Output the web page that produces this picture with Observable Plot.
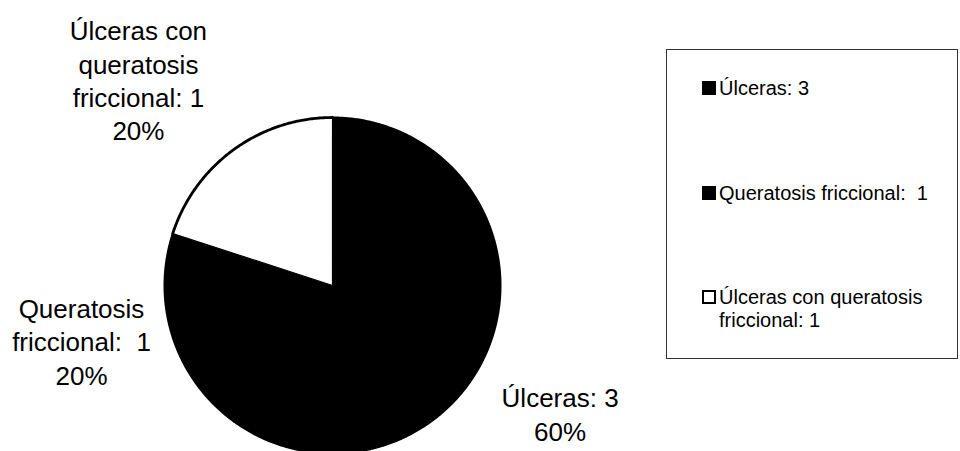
<!DOCTYPE html>
<html>
<head>
<meta charset="utf-8">
<script src="https://cdn.jsdelivr.net/npm/d3@7"></script>
<script src="https://cdn.jsdelivr.net/npm/@observablehq/plot@0.6"></script>
<style>
  html, body { margin: 0; padding: 0; background: #fff; }
  #wrap { position: relative; width: 960px; height: 451px; overflow: hidden;
          font-family: "Liberation Sans", Arial, sans-serif; color: #000; }
  #legend { position: absolute; left: 666px; top: 49px; width: 292px; height: 310px;
            box-sizing: border-box; border: 1px solid #333; font-size: 20px; }
  .item { position: absolute; left: 35px; display: flex; align-items: flex-start; line-height: 23px; }
  .sw { width: 14px; height: 14px; box-sizing: border-box; border: 2px solid #000;
        margin-top: 4px; margin-right: 3px; flex: none; }
  .item span { white-space: pre; }
</style>
</head>
<body>
<div id="wrap"></div>
<script>
// ---- data ----
const categories = ["Úlceras", "Queratosis friccional", "Úlceras con queratosis friccional"];
const values = [3, 1, 1];
const percentLabels = ["60%", "20%", "20%"];
const sliceLabels = ["Úlceras: 3", "Queratosis\nfriccional:  1", "Úlceras con\nqueratosis\nfriccional: 1"];
const legendLabels = ["Úlceras: 3", "Queratosis friccional:  1", "Úlceras con queratosis\nfriccional: 1"];
const sliceColors = ["#000000", "#000000", "#ffffff"];

// ---- layout ----
const W = 960, H = 451;
const cx = 332, cy = 285, R = 168;
// label placement: angle offset (deg) from slice mid-angle, distance from centre
const labelLayout = [{da: 11.3, d: 261}, {da: 5.6, d: 257}, {da: -7.3, d: 283}];
const legendTops = [27, 132, 236];

const arcs = d3.pie().sort(null).value(d => d)(values);
const pt = (a, r) => ({x: cx + r * Math.sin(a), y: cy - r * Math.cos(a)});
const arcPoints = a => {
  const n = Math.max(4, Math.ceil((a.endAngle - a.startAngle) / (Math.PI / 360)));
  const out = [];
  for (let k = 0; k <= n; k++) out.push(pt(a.startAngle + (a.endAngle - a.startAngle) * k / n, R));
  return out;
};

const sliceMarks = arcs.map((a, i) => {
  const pts = [pt(0, 0), ...arcPoints(a)];
  const white = sliceColors[i] === "#ffffff";
  return Plot.line(pts, {x: "x", y: "y", curve: "linear-closed",
    fill: sliceColors[i], stroke: "#000", strokeWidth: white ? 1.2 : 2});
});
// heavier outer rim on the light slice
const rimMarks = arcs.filter((a, i) => sliceColors[i] === "#ffffff")
  .map(a => Plot.line(arcPoints(a), {x: "x", y: "y", stroke: "#000", strokeWidth: 2.8}));

const labelData = arcs.map((a, i) => {
  const mid = (a.startAngle + a.endAngle) / 2 + labelLayout[i].da * Math.PI / 180;
  const p = pt(mid, labelLayout[i].d);
  return {x: p.x, y: p.y, text: sliceLabels[i] + "\n" + percentLabels[i]};
});

const chart = Plot.plot({
  width: W, height: H,
  margin: 0,
  x: {type: "linear", domain: [0, W], range: [0, W], axis: null},
  y: {type: "linear", domain: [0, H], range: [0, H], axis: null},
  style: {background: "#fff", fontFamily: "'Liberation Sans', Arial, sans-serif", overflow: "hidden"},
  marks: [
    ...sliceMarks,
    ...rimMarks,
    Plot.text(labelData, {x: "x", y: "y", text: "text", fontSize: 26, lineHeight: 1.28,
      fill: "#000", textAnchor: "middle"})
  ]
});

const wrap = document.getElementById("wrap");
wrap.appendChild(chart);

const legend = document.createElement("div");
legend.id = "legend";
categories.forEach((c, i) => {
  const it = document.createElement("div");
  it.className = "item";
  it.style.top = legendTops[i] + "px";
  const sw = document.createElement("div");
  sw.className = "sw";
  sw.style.background = sliceColors[i];
  const tx = document.createElement("span");
  tx.textContent = legendLabels[i];
  it.appendChild(sw); it.appendChild(tx);
  legend.appendChild(it);
});
wrap.appendChild(legend);
</script>
</body>
</html>
